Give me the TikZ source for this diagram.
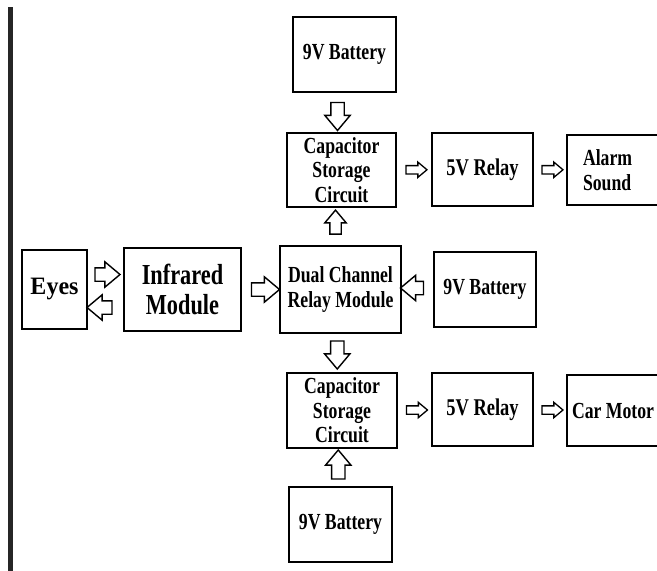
\documentclass[tikz,border=0pt]{standalone}
\usepackage{fontspec}
\setmainfont{Liberation Serif}
\newfontfamily\condfont{Liberation Serif}[FakeStretch=0.77]
\newfontfamily\eyesfont{Liberation Serif}[FakeStretch=0.96]
\usetikzlibrary{shapes.arrows,calc}

\tikzset{
  boite/.style={draw, line width=2pt, inner sep=2pt, align=center,
    font=\condfont\bfseries\fontsize{23}{24.5}\selectfont},
  grandefleche/.style={draw, line width=1.4pt, single arrow,
    single arrow head extend=6pt, single arrow tip angle=80,
    minimum width=0pt, minimum height=26pt, inner xsep=0pt, inner ysep=6pt},
  petitefleche/.style={draw, line width=1.3pt, single arrow,
    single arrow head extend=3.5pt, single arrow tip angle=80,
    minimum width=0pt, minimum height=21pt, inner xsep=0pt, inner ysep=3.5pt}
}

\begin{document}
\begin{tikzpicture}[x=1pt,y=-1pt]

\useasboundingbox (0,0) rectangle (657,571);

% Barre
\fill[black!85] (8,7) rectangle (13,571);

% Boites
\node[boite, minimum width=65pt, minimum height=79pt,
  font=\eyesfont\bfseries\fontsize{25}{27}\selectfont] (yeux) at (54.5,289.5)
{Eyes};

\node[boite, minimum width=117pt, minimum height=83pt,
  font=\condfont\bfseries\fontsize{29}{30.5}\selectfont] (infra) at (182.5,289.5)
{Infrared\\Module};

\node[boite, minimum width=121pt, minimum height=87pt] (relais) at (340.5,289.5)
{Dual Channel\\Relay Module};

\node[boite, minimum width=102pt, minimum height=75pt] (batD) at (485,289.5)
{9V Battery};

\node[boite, minimum width=103pt, minimum height=75pt] (batH) at (344.5,54.5)
{9V Battery};

\node[boite, minimum width=109pt, minimum height=74pt] (condH) at (341.5,170)
{Capacitor\\Storage\\Circuit};

\node[boite, minimum width=101pt, minimum height=73pt,
  font=\condfont\bfseries\fontsize{24}{26}\selectfont] (relH) at (482.5,169.5)
{5V Relay};

\node[boite, anchor=west, text width=70pt, align=flush left, inner xsep=16pt,
  minimum height=70pt] (alarme) at (566,170)
{Alarm\\Sound};

\node[boite, minimum width=110pt, minimum height=75pt] (condB) at (342,410.5)
{Capacitor\\Storage\\Circuit};

\node[boite, minimum width=101pt, minimum height=73pt,
  font=\condfont\bfseries\fontsize{24}{26}\selectfont] (relB) at (482.5,409.5)
{5V Relay};

\node[boite, anchor=west, text width=100pt, align=flush left, inner xsep=5pt,
  minimum height=71pt] (moteur) at (566,410.5)
{Car Motor};

\node[boite, minimum width=103pt, minimum height=75pt] (batB) at (340.5,524.5)
{9V Battery};

% Fleches
\node[grandefleche, minimum height=25pt] (f1)
  at ($(yeux.east)!0.5!(infra.west)+(-2,-15)$) {};
\node[grandefleche, minimum height=25pt, rotate=180] (f2)
  at ($(yeux.east)!0.5!(infra.west)+(-2,18)$) {};
\node[grandefleche, minimum height=28pt] (f3)
  at ($(infra.east)!0.5!(relais.west)+(1,0)$) {};
\node[grandefleche, minimum height=23pt, rotate=180] (f4)
  at ($(batD.west)!0.5!(relais.east)+(-1.5,-1.5)$) {};
\node[grandefleche, minimum height=28pt, rotate=-90] (f5)
  at ($(batH.south)!0.5!(condH.north)+(-5.5,0)$) {};
\node[grandefleche, minimum height=24pt, inner ysep=5pt, single arrow head extend=5pt,
  rotate=90] (f6)
  at ($(relais.north)!0.5!(condH.south)+(-5.5,-1)$) {};
\node[petitefleche] (f7)
  at ($(condH.east)!0.5!(relH.west)$) {};
\node[petitefleche] (f8)
  at ($(relH.east)!0.5!(alarme.west)$) {};
\node[grandefleche, minimum height=28pt, rotate=-90] (f9)
  at ($(relais.south)!0.5!(condB.north)+(-4,-2)$) {};
\node[petitefleche] (f10)
  at ($(condB.east)!0.5!(relB.west)$) {};
\node[petitefleche] (f11)
  at ($(relB.east)!0.5!(moteur.west)$) {};
\node[grandefleche, minimum height=29pt, rotate=90] (f12)
  at ($(batB.north)!0.5!(condB.south)+(-3,1)$) {};

\end{tikzpicture}
\end{document}
